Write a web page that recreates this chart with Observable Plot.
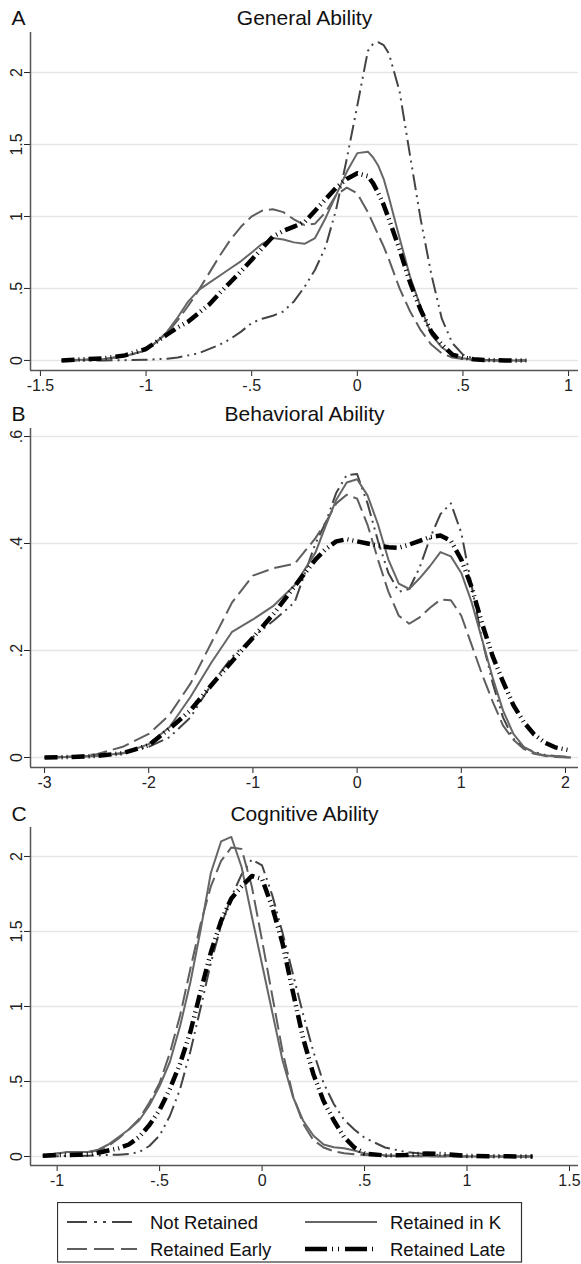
<!DOCTYPE html>
<html>
<head>
<meta charset="utf-8">
<script src="https://cdn.jsdelivr.net/npm/d3@7"></script>
<script src="https://cdn.jsdelivr.net/npm/@observablehq/plot@0.6"></script>
<style>
  html, body { margin: 0; padding: 0; background: #fff; }
  #wrap { position: relative; width: 581px; height: 1264px; overflow: hidden; }
  #wrap svg { display: block; }
  #legend { position: absolute; left: 57px; top: 1202px; }
</style>
</head>
<body>
<div id="wrap"></div>
<script>
// ---------- DATA ----------
const seriesNames = ["Not Retained", "Retained in K", "Retained Early", "Retained Late"];

// Panel A: General Ability
const genX = [-1.4,-1.2,-1.1,-1.0,-0.95,-0.9,-0.85,-0.8,-0.75,-0.7,-0.65,-0.6,-0.55,-0.5,-0.45,-0.4,-0.35,-0.3,-0.25,-0.2,-0.15,-0.1,-0.05,0,0.05,0.075,0.1,0.125,0.15,0.2,0.25,0.3,0.35,0.4,0.45,0.5,0.55,0.6,0.7,0.8];
const genNotRetained = [0,0,0.002,0.005,0.008,0.012,0.02,0.035,0.05,0.08,0.11,0.15,0.2,0.26,0.29,0.31,0.34,0.41,0.51,0.63,0.79,1.05,1.4,1.77,2.15,2.2,2.21,2.19,2.13,1.87,1.42,0.98,0.6,0.29,0.12,0.04,0.012,0.004,0,0];
const genRetainedK = [0,0.01,0.03,0.07,0.13,0.2,0.3,0.41,0.49,0.54,0.59,0.64,0.69,0.75,0.81,0.85,0.84,0.82,0.81,0.85,0.99,1.15,1.31,1.44,1.45,1.41,1.35,1.26,1.13,0.85,0.58,0.37,0.18,0.09,0.04,0.015,0.005,0,0,0];
const genRetainedEarly = [0,0.01,0.03,0.07,0.13,0.19,0.28,0.38,0.49,0.61,0.73,0.84,0.93,1.0,1.04,1.05,1.03,0.98,0.94,0.95,1.03,1.15,1.2,1.16,1.03,0.95,0.87,0.79,0.7,0.5,0.34,0.21,0.11,0.05,0.02,0.01,0.005,0,0,0];
const genRetainedLate = [0,0.015,0.035,0.08,0.13,0.18,0.23,0.27,0.33,0.39,0.47,0.545,0.62,0.7,0.78,0.86,0.9,0.93,0.96,1.04,1.12,1.2,1.26,1.3,1.28,1.23,1.16,1.08,0.98,0.77,0.54,0.35,0.2,0.11,0.04,0.02,0.008,0.003,0,0];
const genXTicks = [-1.5,-1,-0.5,0,0.5,1];
const genXLabels = ["-1.5","-1","-.5","0",".5","1"];
const genYTicks = [0,0.5,1,1.5,2];
const genYLabels = ["0",".5","1","1.5","2"];

// Panel B: Behavioral Ability
const behX = [-3,-2.75,-2.5,-2.25,-2,-1.8,-1.6,-1.4,-1.2,-1.0,-0.8,-0.6,-0.4,-0.3,-0.2,-0.1,0,0.1,0.2,0.3,0.4,0.5,0.6,0.7,0.8,0.9,1.0,1.1,1.2,1.3,1.4,1.5,1.6,1.7,1.8,1.9,2.05];
const behNotRetained = [0,0.001,0.003,0.008,0.02,0.038,0.075,0.136,0.188,0.225,0.256,0.29,0.4,0.44,0.495,0.528,0.53,0.475,0.405,0.345,0.31,0.315,0.355,0.41,0.455,0.475,0.42,0.32,0.22,0.14,0.075,0.035,0.019,0.01,0.005,0.003,0.001];
const behRetainedK = [0,0.001,0.003,0.008,0.025,0.057,0.113,0.177,0.235,0.258,0.284,0.322,0.383,0.434,0.482,0.514,0.52,0.49,0.436,0.37,0.325,0.315,0.335,0.358,0.384,0.376,0.345,0.29,0.22,0.15,0.088,0.044,0.02,0.009,0.004,0.002,0];
const behRetainedEarly = [0,0.002,0.006,0.02,0.044,0.08,0.138,0.214,0.29,0.34,0.354,0.362,0.41,0.44,0.475,0.491,0.484,0.435,0.37,0.31,0.265,0.25,0.262,0.28,0.295,0.294,0.265,0.21,0.155,0.105,0.06,0.033,0.016,0.007,0.003,0.001,0];
const behRetainedLate = [0,0.001,0.003,0.008,0.023,0.054,0.088,0.135,0.18,0.224,0.269,0.32,0.37,0.39,0.404,0.408,0.404,0.4,0.396,0.393,0.392,0.398,0.405,0.412,0.415,0.405,0.37,0.318,0.25,0.19,0.142,0.098,0.066,0.043,0.028,0.019,0.013];
const behXTicks = [-3,-2,-1,0,1,2];
const behXLabels = ["-3","-2","-1","0","1","2"];
const behYTicks = [0,0.2,0.4,0.6];
const behYLabels = ["0",".2",".4",".6"];

// Panel C: Cognitive Ability
const cogX = [-1.07,-1.0,-0.95,-0.9,-0.85,-0.8,-0.75,-0.7,-0.65,-0.6,-0.55,-0.5,-0.45,-0.4,-0.35,-0.3,-0.25,-0.2,-0.15,-0.1,-0.05,0,0.05,0.1,0.15,0.2,0.25,0.3,0.35,0.4,0.45,0.5,0.6,0.7,0.8,0.9,1.0,1.1,1.2,1.32];
const cogNotRetained = [0,0.002,0.003,0.004,0.005,0.007,0.01,0.012,0.016,0.03,0.07,0.14,0.27,0.45,0.7,0.99,1.29,1.54,1.73,1.88,1.98,1.94,1.74,1.49,1.22,0.95,0.7,0.49,0.35,0.245,0.18,0.125,0.06,0.03,0.015,0.008,0.003,0.001,0,0];
const cogRetainedK = [0.005,0.02,0.03,0.03,0.03,0.045,0.08,0.13,0.18,0.24,0.34,0.47,0.63,0.87,1.16,1.51,1.89,2.1,2.13,1.93,1.6,1.28,0.96,0.64,0.4,0.24,0.14,0.08,0.062,0.055,0.04,0.02,0.008,0.004,0.002,0.001,0,0,0,0];
const cogRetainedEarly = [0.005,0.02,0.03,0.03,0.03,0.04,0.07,0.12,0.18,0.25,0.36,0.49,0.69,0.94,1.25,1.55,1.8,1.97,2.06,2.05,1.8,1.44,1.07,0.7,0.41,0.22,0.11,0.06,0.035,0.022,0.015,0.01,0.004,0.002,0.001,0,0,0,0,0];
const cogRetainedLate = [0.005,0.01,0.01,0.012,0.015,0.025,0.04,0.055,0.08,0.13,0.21,0.31,0.45,0.62,0.83,1.1,1.36,1.57,1.72,1.8,1.87,1.85,1.66,1.42,1.1,0.79,0.55,0.37,0.24,0.13,0.06,0.02,0.007,0.01,0.02,0.015,0.004,0.002,0.001,0];
const cogXTicks = [-1,-0.5,0,0.5,1,1.5];
const cogXLabels = ["-1","-.5","0",".5","1","1.5"];
const cogYTicks = [0,0.5,1,1.5,2];
const cogYLabels = ["0",".5","1","1.5","2"];

// ---------- STYLES ----------
const FONT = "'Liberation Sans', Arial, Helvetica, sans-serif";
const styles = {
  "Not Retained":   {stroke: "#444", strokeWidth: 2,   dash: "16,5,2,5,2,5"},
  "Retained in K":  {stroke: "#666", strokeWidth: 2,   dash: null},
  "Retained Early": {stroke: "#5e5e5e", strokeWidth: 2, dash: "17,6"},
  "Retained Late":  {stroke: "#000", strokeWidth: 4.5, dash: "13,4,1,4,1,4"}
};
const drawOrder = ["Not Retained", "Retained Early", "Retained in K", "Retained Late"];

function panel(cfg) {
  const rows = {};
  seriesNames.forEach((name, k) => {
    rows[name] = cfg.xs.map((x, i) => ({x, y: cfg.ys[k][i]}));
  });
  const lineMarks = drawOrder.map(name => {
    const s = styles[name];
    const o = {x: "x", y: "y", stroke: s.stroke, strokeWidth: s.strokeWidth, strokeLinecap: "butt", strokeLinejoin: "round"};
    if (s.dash) o.strokeDasharray = s.dash;
    return Plot.line(rows[name], o);
  });
  const svg = Plot.plot({
    width: 581,
    height: cfg.height,
    marginTop: cfg.marginTop,
    marginBottom: cfg.marginBottom,
    marginLeft: 30,
    marginRight: 3,
    style: {fontFamily: FONT, fontSize: "16px", color: "#222", background: "#fff", overflow: "visible"},
    x: {domain: cfg.xDomain, ticks: cfg.xTicks, tickFormat: d => cfg.xLabels[cfg.xTicks.indexOf(d)], tickSize: 6, tickPadding: 3, label: null},
    y: {domain: cfg.yDomain, ticks: cfg.yTicks, tickFormat: d => cfg.yLabels[cfg.yTicks.indexOf(d)], tickSize: 6, tickRotate: -90, label: null},
    marks: [
      Plot.ruleY(cfg.yTicks, {stroke: "#e6e6e6", strokeWidth: 1.5}),
      ...lineMarks,
      Plot.ruleX([cfg.xDomain[0]], {stroke: "#555", strokeWidth: 1.5}),
      Plot.ruleY([cfg.yDomain[0]], {stroke: "#555", strokeWidth: 1.5}),
      Plot.text([cfg.title], {text: d => d, frameAnchor: "top", dy: -cfg.titleDy, lineAnchor: "bottom", fontSize: 21, fill: "#111"}),
      Plot.text([cfg.letter], {text: d => d, frameAnchor: "top-left", dx: -19, dy: -cfg.titleDy, textAnchor: "start", lineAnchor: "bottom", fontSize: 21, fill: "#111"})
    ]
  });
  svg.style.display = "block";
  return svg;
}

const wrap = document.getElementById("wrap");
wrap.appendChild(panel({
  xs: genX, ys: [genNotRetained, genRetainedK, genRetainedEarly, genRetainedLate],
  xDomain: [-1.547, 1.047], yDomain: [-0.07, 2.278],
  xTicks: genXTicks, xLabels: genXLabels, yTicks: genYTicks, yLabels: genYLabels,
  title: "General Ability", letter: "A", height: 400, marginTop: 32, marginBottom: 30, titleDy: 8
}));
wrap.appendChild(panel({
  xs: behX, ys: [behNotRetained, behRetainedK, behRetainedEarly, behRetainedLate],
  xDomain: [-3.135, 2.125], yDomain: [-0.0187, 0.615],
  xTicks: behXTicks, xLabels: behXLabels, yTicks: behYTicks, yLabels: behYLabels,
  title: "Behavioral Ability", letter: "B", height: 400, marginTop: 28, marginBottom: 33, titleDy: 8
}));
wrap.appendChild(panel({
  xs: cogX, ys: [cogNotRetained, cogRetainedK, cogRetainedEarly, cogRetainedLate],
  xDomain: [-1.13, 1.544], yDomain: [-0.06, 2.193],
  xTicks: cogXTicks, xLabels: cogXLabels, yTicks: cogYTicks, yLabels: cogYLabels,
  title: "Cognitive Ability", letter: "C", height: 395, marginTop: 27, marginBottom: 30, titleDy: 7
}));

// ---------- LEGEND ----------
const legendPatterns = {
  "Not Retained": "20,7,3,6,3,6",
  "Retained in K": null,
  "Retained Early": "20,7",
  "Retained Late": "22,5,1,5,1,6"
};
const legendItems = [
  {name: "Not Retained", col: 0, row: 0},
  {name: "Retained in K", col: 1, row: 0},
  {name: "Retained Early", col: 0, row: 1},
  {name: "Retained Late", col: 1, row: 1}
];
const ns = "http://www.w3.org/2000/svg";
const lg = document.createElementNS(ns, "svg");
lg.setAttribute("id", "legend");
lg.setAttribute("width", 466);
lg.setAttribute("height", 62);
lg.style.fontFamily = FONT;
const box = document.createElementNS(ns, "rect");
box.setAttribute("x", 0.5); box.setAttribute("y", 0.5);
box.setAttribute("width", 464); box.setAttribute("height", 59.5);
box.setAttribute("fill", "#fff"); box.setAttribute("stroke", "#333"); box.setAttribute("stroke-width", 1.2);
lg.appendChild(box);
const colLine = [[10, 80], [248, 320]];
const colText = [93, 333];
const rowY = [20, 47];
legendItems.forEach(it => {
  const s = styles[it.name];
  const ln = document.createElementNS(ns, "line");
  ln.setAttribute("x1", colLine[it.col][0]); ln.setAttribute("x2", colLine[it.col][1]);
  ln.setAttribute("y1", rowY[it.row]); ln.setAttribute("y2", rowY[it.row]);
  ln.setAttribute("stroke", s.stroke); ln.setAttribute("stroke-width", s.strokeWidth);
  if (legendPatterns[it.name]) ln.setAttribute("stroke-dasharray", legendPatterns[it.name]);
  lg.appendChild(ln);
  const tx = document.createElementNS(ns, "text");
  tx.setAttribute("x", colText[it.col]); tx.setAttribute("y", rowY[it.row] + 6.5);
  tx.setAttribute("font-size", "18.5px"); tx.setAttribute("fill", "#111");
  tx.textContent = it.name;
  lg.appendChild(tx);
});
wrap.appendChild(lg);
</script>
</body>
</html>
